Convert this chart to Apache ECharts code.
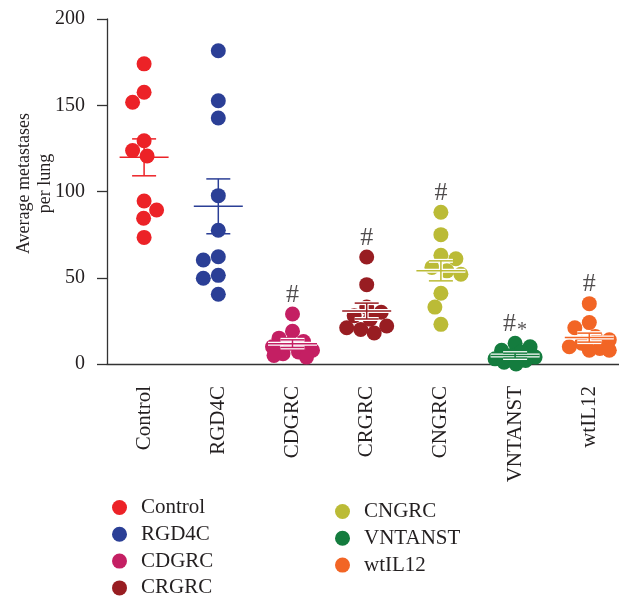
<!DOCTYPE html>
<html><head><meta charset="utf-8">
<script src="https://cdn.jsdelivr.net/npm/echarts@6/dist/echarts.min.js"></script>
<style>html,body{margin:0;padding:0;background:#fff}#c{width:619px;height:598px}</style>
</head><body><div id="c"></div><script>
// ---- data ----
const categories = ['Control', 'RGD4C', 'CDGRC', 'CRGRC', 'CNGRC', 'VNTANST', 'wtIL12'];
const controlValues = [174, 157.5, 151.7, 129.4, 123.7, 120.6, 94.5, 89.3, 84.5, 73.4];
const rgd4cValues = [181.6, 152.6, 142.6, 97.6, 77.5, 62.2, 60.3, 51.4, 49.7, 40.4];
const cdgrcValues = [29, 19, 15, 13, 12, 10, 8, 7, 6, 5, 4];
const crgrcValues = [62, 46, 33, 30, 28, 26, 22, 21, 20, 18];
const cngrcValues = [88, 75, 63, 61, 56, 54, 52, 41, 33, 23];
const vntanstValues = [12, 10, 8, 7, 5, 4, 3, 2, 1, 0];
const wtil12Values = [35, 24, 21, 16, 14, 12, 10, 9, 8, 8];
const groupMeans = [119.8, 91.4, 11.8, 30.7, 54.0, 4.9, 15.3];
const groupSems = [10.7, 15.9, 2.2, 4.6, 5.8, 1.4, 2.6];
const sigLabels = ['', '', '#', '#', '#', '#{s|*}', '#'];
const yTicks = [0, 50, 100, 150, 200];

// ---- styling / layout ----
const groupValues = [controlValues, rgd4cValues, cdgrcValues, crgrcValues, cngrcValues, vntanstValues, wtil12Values];
const colors = ['#EC2227', '#2B3F96', '#C41F63', '#981D22', '#BBBB36', '#147C3E', '#F26525'];
const FONT = '"Liberation Serif", "DejaVu Serif", serif';
const TEXT = '#231F20';
const AXIS = '#333';
const G = { left: 107, top: 19, width: 519.4, height: 345, outerBoundsMode: 'none', containLabel: false };
const pxPerCat = G.width / categories.length;
const pxPerUnit = G.height / (yTicks[yTicks.length - 1] - yTicks[0]);
const DOT = 15;
const SPREAD = 20;
const haloGroups = [2, 3, 4, 5, 6];

// deterministic beeswarm offsets (pixels) computed from values
function swarm(values) {
  const order = values.map((v, i) => i).sort((a, b) => values[b] - values[a]);
  const placed = [];
  const off = new Array(values.length);
  let side = -1;
  order.forEach(i => {
    const y = values[i] * pxPerUnit;
    let best = 0, bestCost = Infinity;
    for (let dx = -SPREAD; dx <= SPREAD; dx += 0.5) {
      let minD = Infinity;
      placed.forEach(p => { const d = Math.hypot(dx - p.x, y - p.y); if (d < minD) minD = d; });
      const overlap = Math.max(0, DOT - minD);
      const cost = overlap * 100 + Math.abs(dx) + (Math.sign(dx) === side ? 0 : 0.01);
      if (cost < bestCost) { bestCost = cost; best = dx; }
    }
    placed.push({ x: best, y });
    off[i] = best;
    side = -side;
  });
  return off;
}

const scatterSeries = groupValues.map((vals, gi) => {
  const off = swarm(vals);
  return {
    name: categories[gi], type: 'scatter', xAxisIndex: 1, z: 3,
    symbol: 'circle', symbolSize: DOT,
    itemStyle: { color: colors[gi], opacity: 1 },
    emphasis: { disabled: true },
    data: vals.map((v, j) => [gi + off[j] / pxPerCat, v])
  };
});

function barRenderer(halo) {
  return function (params, api) {
    const i = api.value(0), m = api.value(1), s = api.value(2);
    const c = api.coord([i, m]), t = api.coord([i, m + s]), b = api.coord([i, m - s]);
    const segs = [
      [c[0] - 24.5, c[1], c[0] + 24.5, c[1]],
      [c[0], t[1], c[0], b[1]],
      [c[0] - 12, t[1], c[0] + 12, t[1]],
      [c[0] - 12, b[1], c[0] + 12, b[1]]
    ];
    const children = [];
    if (halo) segs.forEach(sg => children.push({ type: 'line', shape: { x1: sg[0], y1: sg[1], x2: sg[2], y2: sg[3] }, style: { stroke: '#fff', lineWidth: 4 } }));
    segs.forEach(sg => children.push({ type: 'line', shape: { x1: sg[0], y1: sg[1], x2: sg[2], y2: sg[3] }, style: { stroke: colors[i], lineWidth: 1.5 } }));
    return { type: 'group', children };
  };
}
const barData = groupMeans.map((m, i) => [i, m, groupSems[i]]);

const series = [
  { type: 'custom', xAxisIndex: 1, z: 2, silent: true, renderItem: barRenderer(false),
    data: barData.filter(d => haloGroups.indexOf(d[0]) < 0) },
  ...scatterSeries,
  { type: 'custom', xAxisIndex: 1, z: 4, silent: true, renderItem: barRenderer(true),
    data: barData.filter(d => haloGroups.indexOf(d[0]) >= 0) },
  { type: 'scatter', xAxisIndex: 1, z: 5, silent: true, symbolSize: 2,
    itemStyle: { color: 'rgba(255,255,255,0)' },
    data: groupValues.map((vals, i) => [i, Math.max(...vals) + 11, sigLabels[i]]).filter(d => d[2] !== ''),
    label: { show: true, position: 'inside', formatter: p => p.value[2],
      fontFamily: FONT, fontSize: 26, color: TEXT,
      rich: { s: { fontFamily: FONT, fontSize: 20, color: TEXT, padding: [12, 0, 0, 1] } } } }
];

const legendText = { fontFamily: FONT, fontSize: 21, color: TEXT, lineHeight: 20, padding: [0, 0, 0, 9] };
const chart = echarts.init(document.getElementById('c'), null, { renderer: 'canvas' });
chart.setOption({
  animation: false,
  backgroundColor: '#fff',
  grid: G,
  legend: [
    { data: categories.slice(0, 4), orient: 'vertical', left: 112, top: 497, height: 200, padding: 0, icon: 'circle',
      itemWidth: 15, itemHeight: 15, itemGap: 5.8, textStyle: legendText },
    { data: categories.slice(4), orient: 'vertical', left: 335, top: 501, height: 200, padding: 0, icon: 'circle',
      itemWidth: 15, itemHeight: 15, itemGap: 5.8, textStyle: legendText }
  ],
  xAxis: [
    { type: 'category', data: categories, boundaryGap: true,
      axisLine: { onZero: false, lineStyle: { color: AXIS, width: 1.3 } },
      axisTick: { alignWithLabel: true, length: 9, lineStyle: { color: AXIS, width: 1.3 } },
      axisLabel: { rotate: 90, margin: 22, fontFamily: FONT, fontSize: 21, color: TEXT, interval: 0 },
      splitLine: { show: false } },
    { type: 'value', min: -0.5, max: categories.length - 0.5, show: false }
  ],
  yAxis: {
    type: 'value', min: yTicks[0], max: yTicks[yTicks.length - 1], interval: yTicks[1] - yTicks[0],
    axisLine: { show: true, onZero: false, lineStyle: { color: AXIS, width: 1.3 } },
    axisTick: { show: true, length: 10, lineStyle: { color: AXIS, width: 1.3 } },
    axisLabel: { margin: 22, fontFamily: FONT, fontSize: 20, color: TEXT },
    splitLine: { show: false },
    name: 'Average metastases\nper lung', nameLocation: 'middle', nameGap: 51, nameMoveOverlap: false,
    nameTextStyle: { fontFamily: FONT, fontSize: 18, lineHeight: 21, color: TEXT, padding: [0, 0, 0, 16] }
  },
  series
});
</script></body></html>
